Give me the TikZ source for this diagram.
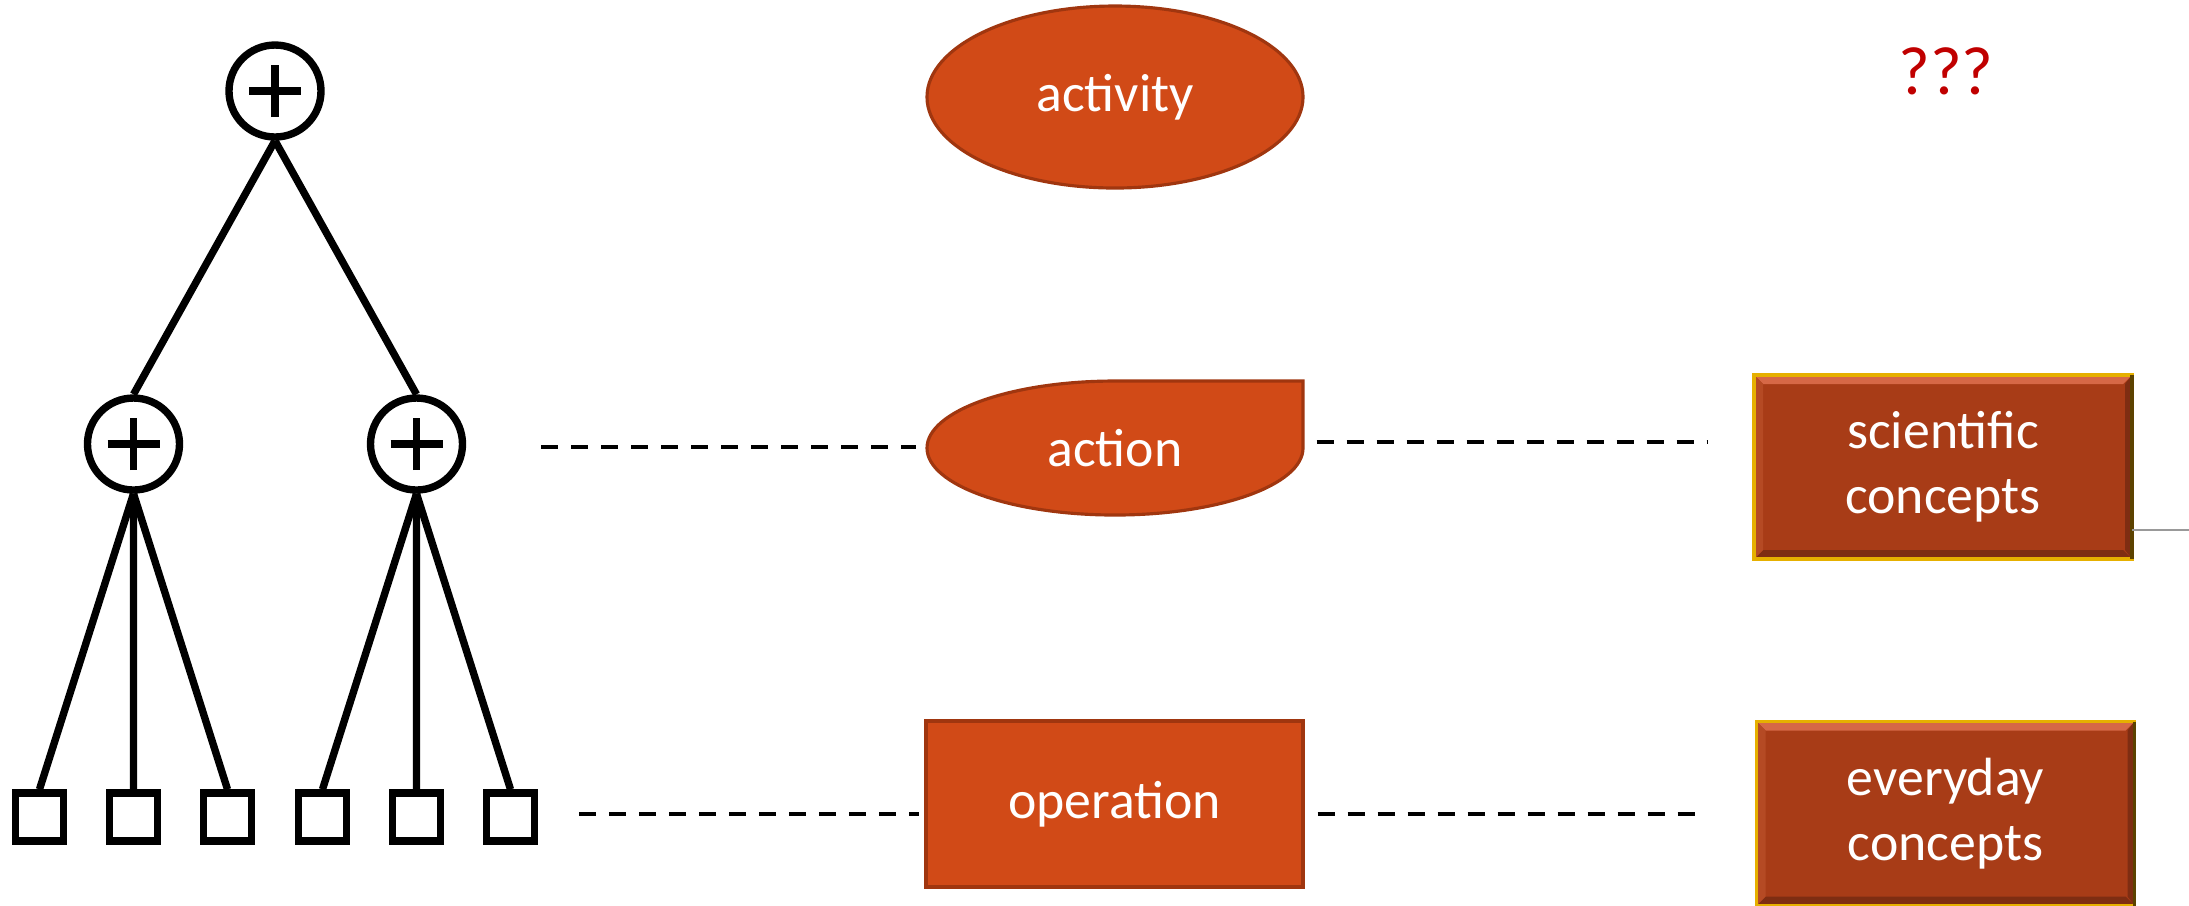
\documentclass[tikz,border=0pt]{standalone}
\usepackage{fontspec}
\setmainfont{Carlito}
\usetikzlibrary{shapes.geometric, calc, positioning}
\definecolor{actfill}{HTML}{D14A17}
\definecolor{actline}{HTML}{A0360F}
\definecolor{conceptfill}{HTML}{A83C17}
\definecolor{conceptgold}{HTML}{E6B000}
\definecolor{conceptdark}{HTML}{5C4200}
\definecolor{bevtop}{HTML}{D66846}
\definecolor{bevbottom}{HTML}{7E2D12}
\definecolor{bevleft}{HTML}{B54A24}
\definecolor{qred}{HTML}{C00000}

\begin{document}
\begin{tikzpicture}[level 1/.style={level distance=3.53cm, sibling distance=2.83cm},
            level 2/.style={level distance=3.73cm, sibling distance=0.94cm},
            parent anchor=south, child anchor=north,
            edge from parent/.style={draw, line width=2.1pt}]
        \useasboundingbox (0,0) rectangle (21.89,-9.05);
        \tikzstyle{plusnode}=[circle, draw, line width=2.1pt, minimum size=0.92cm, inner sep=0pt,
            path picture={\draw[line width=2.1pt] ([xshift=-0.26cm]path picture bounding box.center) -- ([xshift=0.26cm]path picture bounding box.center);
                \draw[line width=2.1pt] ([yshift=-0.26cm]path picture bounding box.center) -- ([yshift=0.26cm]path picture bounding box.center);}]
        \tikzstyle{leafnode}=[rectangle, draw, line width=2.1pt, minimum size=0.48cm, inner sep=0pt]
        \tikzstyle{midtext}=[text=white, font=\fontsize{15.3}{18.6}\selectfont]
        \tikzstyle{dashline}=[line width=1.4pt, dash pattern=on 0.17cm off 0.13cm]
        \tikzstyle{conceptbox}=[rectangle, fill=conceptfill, draw=conceptgold, line width=1pt, outer sep=0pt,
            minimum width=3.78cm, minimum height=1.84cm, align=center, midtext]

        \node[plusnode] (root) at (2.75,-0.91) {}
        child {node[plusnode] (left) {}
                child {node[leafnode] (left1) {}}
                child {node[leafnode] (left2) {}}
                child {node[leafnode] (left3) {}}
            }
        child {node[plusnode] (right) {}
                child {node[leafnode] (right1) {}}
                child {node[leafnode] (right2) {}}
                child {node[leafnode] (right3) {}}
            };

        \node[ellipse, fill=actfill, draw=actline, line width=0.9pt, minimum width=3.76cm, minimum height=1.82cm, midtext] (activity) at (11.15,-0.97) {activity};
        \fill[actfill, draw=actline, line width=0.9pt] (11.15,-3.81) arc[start angle=90, end angle=360, x radius=1.88cm, y radius=0.67cm] -- (13.03,-3.81) -- cycle;
        \node[midtext, minimum width=3.76cm, minimum height=1.34cm, inner sep=0pt] (action) at (11.15,-4.48) {action};
        \node[rectangle, fill=actfill, draw=actline, line width=0.9pt, minimum width=3.77cm, minimum height=1.66cm, midtext] (operation) at (11.145,-8.04) {operation};

        \node[conceptbox] (sci) at (19.43,-4.67) {scientific\\concepts};
        \node[conceptbox] (every) at (19.455,-8.135) {everyday\\concepts};
        \foreach \b in {sci, every} {
            \fill[bevtop] (\b.north west) -- (\b.north east) -- ([shift={(-0.09,-0.09)}]\b.north east) -- ([shift={(0.09,-0.09)}]\b.north west) -- cycle;
            \fill[bevbottom] (\b.south west) -- (\b.south east) -- ([shift={(-0.09,0.09)}]\b.south east) -- ([shift={(0.09,0.09)}]\b.south west) -- cycle;
            \fill[bevleft] (\b.north west) -- ([shift={(0.09,-0.09)}]\b.north west) -- ([shift={(0.09,0.09)}]\b.south west) -- (\b.south west) -- cycle;
            \fill[bevbottom] (\b.north east) -- ([shift={(-0.07,-0.09)}]\b.north east) -- ([shift={(-0.07,0.09)}]\b.south east) -- (\b.south east) -- cycle;
            \draw[conceptgold, line width=1pt] (\b.north west) rectangle (\b.south east);
            \draw[conceptdark, line width=1pt] (\b.north east) -- (\b.south east);
        }

        \node[text=qred, font=\fontsize{19.5}{23}\selectfont] (qmarks) at (19.46,-0.715) {???};

        \coordinate (actstart) at (5.41,-4.47);
        \coordinate (opstart) at (5.79,-8.14);
        \coordinate (greyend) at (21.89,-5.30);
        \draw[dashline, shorten >=0.1cm] (actstart) -- (action.west |- actstart);
        \draw[dashline, shorten <=0.13cm, shorten >=0.46cm] ([yshift=0.06cm]action.east) -- ([yshift=0.06cm]action.east -| sci.west);
        \draw[dashline, shorten >=0.05cm] (opstart) -- (operation.west |- opstart);
        \draw[dashline, shorten <=0.13cm, shorten >=0.57cm] ([yshift=-0.1cm]operation.east) -- ([yshift=-0.1cm]operation.east -| every.west);
        \draw[gray!80, line width=0.5pt] ([yshift=-0.63cm]sci.east) -- (greyend);
    \end{tikzpicture}
\end{document}
